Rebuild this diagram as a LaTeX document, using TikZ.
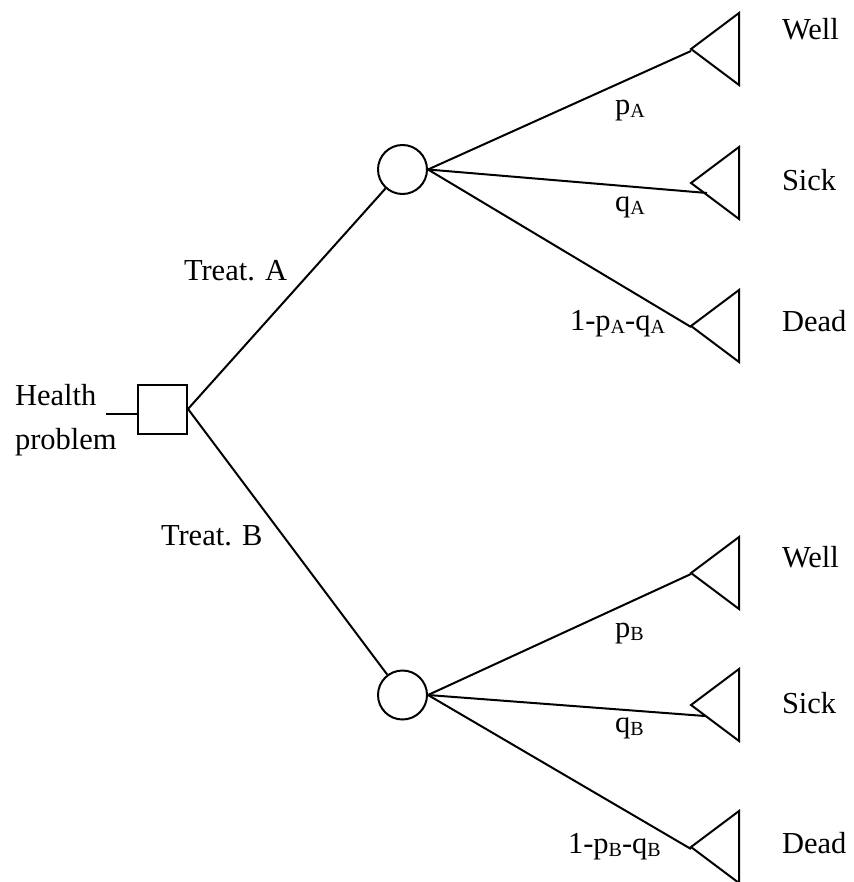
\documentclass[tikz,border=0pt]{standalone}
\usepackage{fontspec}
\setmainfont{Liberation Serif}
\newcommand\lowsub[1]{\raisebox{-3pt}{\fontsize{20}{20}\selectfont #1}}
\begin{document}
\begin{tikzpicture}[x=1pt,y=-1pt,line width=2pt,
  decision/.style={draw,rectangle,minimum size=49pt,inner sep=0pt},
  chance/.style={draw,circle,minimum size=49pt,inner sep=0pt},
  txt/.style={anchor=base west,inner sep=0pt,font=\fontsize{30.5}{36}\selectfont},
  outcome/.style={line join=miter}]
\useasboundingbox (0,0) rectangle (853,882);

% decision and chance nodes
\node[decision] (sq) at (162.5,409) {};
\node[chance] (cA) at (402.5,169.5) {};
\node[chance] (cB) at (402.5,695) {};

% root label and its stub
\node[txt] (health) at (14,405) {Health};
\node[txt] (problem) at (14,449) {problem};
\coordinate (stub) at (106,414);
\draw (stub) -- (sq.west |- stub);

% treatment branches
\draw (sq.east) -- (cA);
\draw (sq.east) -- (cB);
\node[txt] (trA) at (183,280) {Treat. A};
\node[txt] (trB) at (160,545) {Treat. B};

% terminal triangles (tips)
\coordinate (tWA) at (691,49);
\coordinate (tSA) at (691,183);
\coordinate (tDA) at (691,326);
\coordinate (tWB) at (691,573);
\coordinate (tSB) at (691,705);
\coordinate (tDB) at (691,847);
\foreach \t in {tWA,tSA,tDA,tWB,tSB,tDB}
  \draw[outcome] (\t) -- ++(48,-36) -- ++(0,72) -- cycle;

% line ends of the outcome branches
\coordinate (eWA) at (691,51);
\coordinate (eSA) at (707,193);
\coordinate (eDA) at (691,327);
\coordinate (eWB) at (691,574);
\coordinate (eSB) at (705,716);
\coordinate (eDB) at (691,849);

\draw (cA.east) -- (eWA);
\draw (cA.east) -- (eSA);
\draw (cA.east) -- (eDA);
\draw (cB.east) -- (eWB);
\draw (cB.east) -- (eSB);
\draw (cB.east) -- (eDB);

% probabilities
\node[txt] (pA) at (614,115) {p\lowsub{A}};
\node[txt] (qA) at (614,212) {q\lowsub{A}};
\node[txt] (rA) at (569,330) {1-p\lowsub{A}-q\lowsub{A}};
\node[txt] (pB) at (614,637) {p\lowsub{B}};
\node[txt] (qB) at (614,732) {q\lowsub{B}};
\node[txt] (rB) at (567,853) {1-p\lowsub{B}-q\lowsub{B}};

% outcome labels
\node[txt] (wellA) at (781,40) {Well};
\node[txt] (sickA) at (781,191) {Sick};
\node[txt] (deadA) at (781,331) {Dead};
\node[txt] (wellB) at (781,567) {Well};
\node[txt] (sickB) at (781,713) {Sick};
\node[txt] (deadB) at (781,853) {Dead};
\end{tikzpicture}
\end{document}
